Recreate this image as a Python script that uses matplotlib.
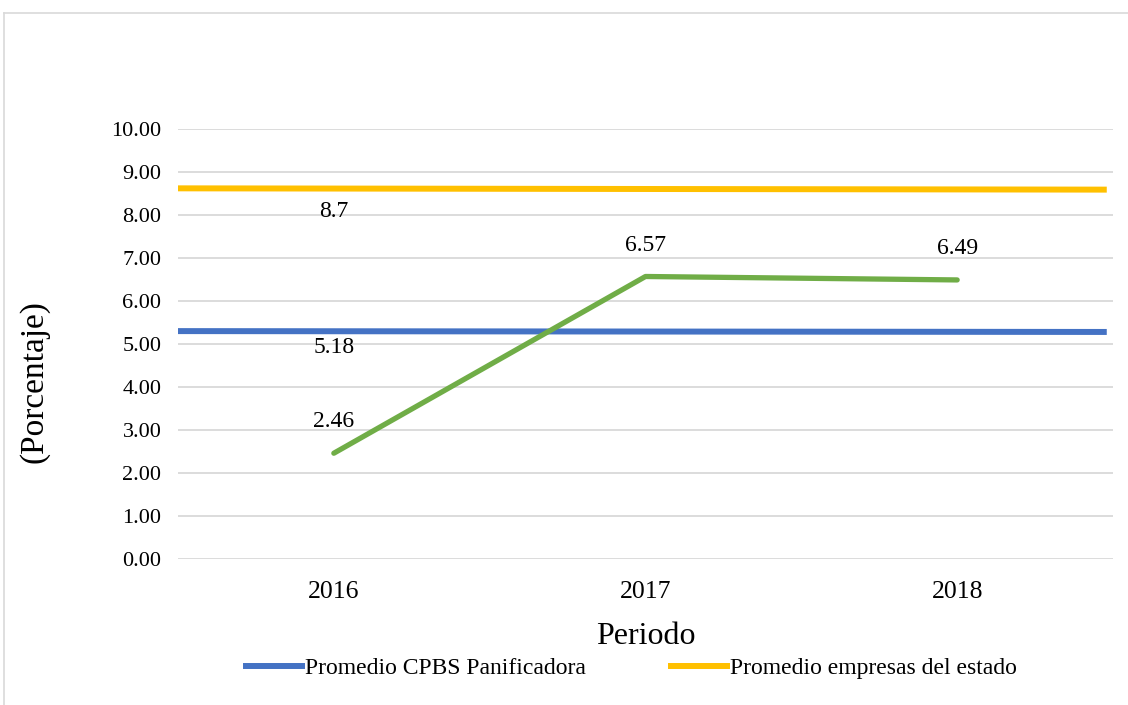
import matplotlib
matplotlib.use("Agg")
import matplotlib.pyplot as plt
from matplotlib.lines import Line2D

# Data
years = ["2016", "2017", "2018"]
empresa_vals = [2.46, 6.57, 6.49]
empresa_labels = ["2.46", "6.57", "6.49"]
cpbs_line = [5.30, 5.28]          # drawn level (left edge, right edge)
cpbs_label = "5.18"
estado_line = [8.62, 8.59]        # drawn level (left edge, right edge)
estado_label = "8.7"
yticks = [0, 1, 2, 3, 4, 5, 6, 7, 8, 9, 10]

plt.rcParams['font.family'] = ['Liberation Serif', 'DejaVu Serif']

BLUE = "#4472C4"
YELLOW = "#FFC000"
GREEN = "#70AD47"
GRID = "#D9D9D9"

fig = plt.figure(figsize=(11.28, 7.05), dpi=100)
ax = fig.add_axes([178/1128, 1 - 559/705, (1113 - 178)/1128, (559 - 129)/705])

x = list(range(len(years)))
ax.set_xlim(-0.5, len(years) - 0.5)
ax.set_ylim(0, 10)

# Reference lines spanning the plot width
edge = [-0.5, len(years) - 0.52]
ax.plot(edge, cpbs_line, color=BLUE, lw=4.3, solid_capstyle='butt', zorder=3)
ax.plot(edge, estado_line, color=YELLOW, lw=4.3, solid_capstyle='butt', zorder=3)
ax.plot(x, empresa_vals, color=GREEN, lw=3.8, solid_capstyle='round', zorder=4)

# Data labels
for xi, v, lab in zip(x, empresa_vals, empresa_labels):
    ax.annotate(lab, (xi, v), xytext=(0, 22.5), textcoords='offset points',
                ha='center', va='center', fontsize=17, color='black')
ax.annotate(estado_label, (0, estado_line[0]), xytext=(0, -16.5), textcoords='offset points',
            ha='center', va='center', fontsize=17)
ax.annotate(cpbs_label, (0, cpbs_line[0]), xytext=(0, -11.5), textcoords='offset points',
            ha='center', va='center', fontsize=17)

ax.set_xticks(x)
ax.set_xticklabels(years, fontsize=18.5)
ax.set_yticks(yticks)
ax.set_yticklabels([f"{t:.2f}" for t in yticks], fontsize=16)
ax.tick_params(axis='both', length=0)
ax.tick_params(axis='x', pad=16)
ax.tick_params(axis='y', pad=12)
ax.grid(axis='y', color=GRID, lw=1.3)
ax.set_axisbelow(True)
for s in ax.spines.values():
    s.set_visible(False)

ax.set_xlabel("Periodo", fontsize=23, va='center')
ax.xaxis.set_label_coords(0.5, -(637 - 559) / 430)
ax.set_ylabel("(Porcentaje)", fontsize=24, va='center')
ax.yaxis.set_label_coords(-(178 - 34) / 935, (559 - 382) / 430)

handles = [Line2D([0], [0], color=BLUE, lw=4.3),
           Line2D([0], [0], color=YELLOW, lw=4.3)]
fig.legend(handles, ["Promedio CPBS Panificadora", "Promedio empresas del estado"],
           loc='center', bbox_to_anchor=(631/1128, 1 - 668/705), ncol=2, frameon=False,
           fontsize=17, handlelength=2.4, handletextpad=0.1, columnspacing=3.6)

# Outer chart border
fig.add_artist(Line2D([4/1128, 1], [1 - 13/705, 1 - 13/705], color=GRID, lw=1.2,
                      transform=fig.transFigure))
fig.add_artist(Line2D([4/1128, 4/1128], [0, 1 - 13/705], color=GRID, lw=1.2,
                      transform=fig.transFigure))

fig.savefig("out.png", dpi=100)
